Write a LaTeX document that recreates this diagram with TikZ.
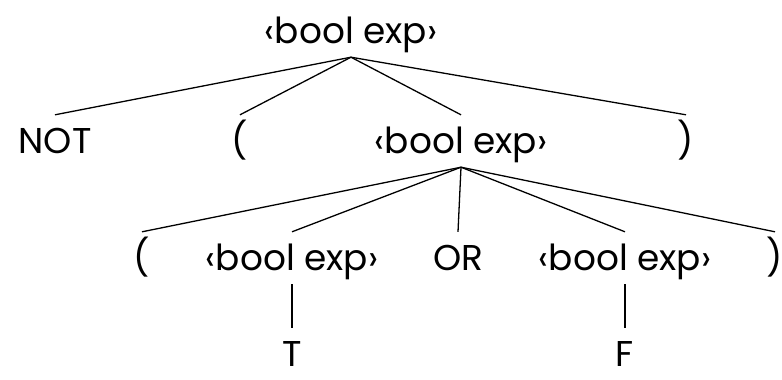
\documentclass[tikz,border=0pt]{standalone}
\usepackage{fontspec}
\setmainfont{Poppins}
\begin{document}
\begin{tikzpicture}[x=1bp,y=-1bp,
  lbl/.style={inner sep=0pt,anchor=base,text height=38bp,text depth=14bp,font=\fontsize{36}{40}\selectfont},
  leaf/.style={lbl,text depth=0pt},
  edge/.style={line width=1.3pt}]
\useasboundingbox (0,0) rectangle (782,379);
\node[lbl] (top) at (351,43) {‹bool exp›};
\node[lbl] (not) at (55,153) {NOT};
\node[lbl] (lpa) at (240,153) {(};
\node[lbl] (mid) at (461,153) {‹bool exp›};
\node[lbl] (rpa) at (686,153) {)};
\node[lbl] (lpb) at (142,270) {(};
\node[lbl] (bl) at (292,270) {‹bool exp›};
\node[lbl] (or) at (458,270) {OR};
\node[lbl] (br) at (625,270) {‹bool exp›};
\node[lbl] (rpb) at (775,270) {)};
\node[leaf] (t) at (292,366) {T};
\node[leaf] (f) at (625,366) {F};
\foreach \c in {not,lpa,mid,rpa} \draw[edge] (top.south) -- (\c.north);
\foreach \c in {lpb,bl,or,br,rpb} \draw[edge] (mid.south) -- (\c.north);
\draw[edge] (bl.south) -- (t.north);
\draw[edge] (br.south) -- (f.north);
\end{tikzpicture}
\end{document}
